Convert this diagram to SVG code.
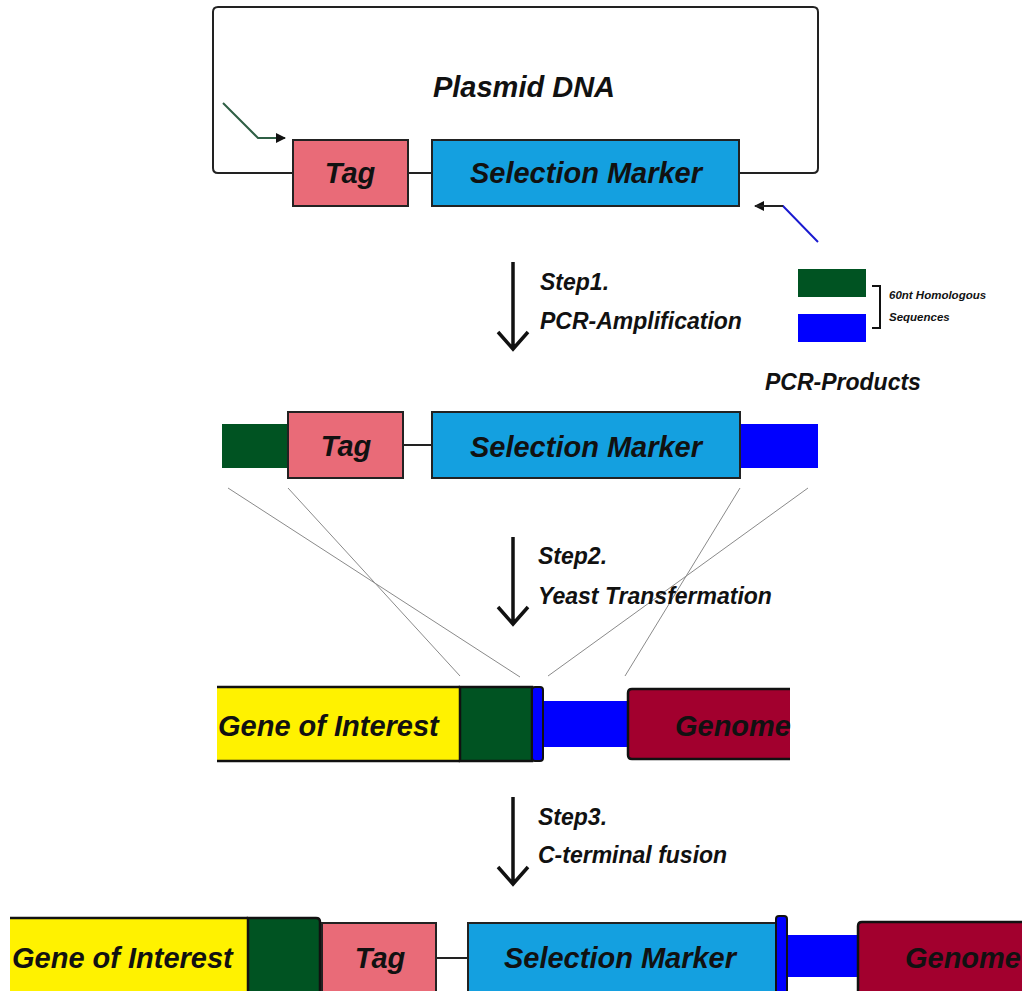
<svg xmlns="http://www.w3.org/2000/svg" width="1022" height="991" viewBox="0 0 1022 991">
  <style>
    .lbl { font-family: "Liberation Sans", Arial, sans-serif; font-weight: bold; font-style: italic; fill: #111; }
    .big { font-size: 29px; }
    .step { font-size: 23px; }
    .small { font-size: 11.5px; }
    .tag { fill: #e96b78; stroke: #222; stroke-width: 2; }
    .marker { fill: #14a0e0; stroke: #222; stroke-width: 2; }
    .homL { fill: #005322; }
    .homR { fill: #0000ff; }
    .goi { fill: #fff200; }
    .genome { fill: #a2002e; }
    .edge { fill: none; stroke: #111; stroke-width: 2.5; }
    .wire { fill: none; stroke: #222; stroke-width: 2; }
    .guide { fill: none; stroke: #8a8a8a; stroke-width: 1; }
    .step-arrow { fill: none; stroke: #111; stroke-width: 3.5; }
  </style>
  <defs>
    <marker id="tri" viewBox="0 0 10 10" refX="9" refY="5" markerWidth="10" markerHeight="10" markerUnits="userSpaceOnUse" orient="auto">
      <path d="M0,0 L10,5 L0,10 z" fill="#111"/>
    </marker>
  </defs>
  <rect width="1022" height="991" fill="#fff"/>

  <g id="connectors">
    <!-- plasmid backbone -->
    <path class="wire" d="M293,173 H218 Q213,173 213,168 V12 Q213,7 218,7 H813 Q818,7 818,12 V168 Q818,173 813,173 H739"/>
    <line class="wire" x1="408" y1="173" x2="432" y2="173"/>
    <!-- primers -->
    <path d="M223,103 L258,138 H285" fill="none" stroke="#2f5f45" stroke-width="2" marker-end="url(#tri)"/>
    <path d="M818,242 L783,206 H755" fill="none" stroke="#1a1ad0" stroke-width="2" marker-end="url(#tri)"/>
    <path d="M783,206 H755" fill="none" stroke="#222" stroke-width="2"/>
    <!-- step arrows -->
    <path class="step-arrow" d="M513,262 V349 M498,332 L513,349 L528,332"/>
    <path class="step-arrow" d="M513,537 V624 M498,607 L513,624 L528,607"/>
    <path class="step-arrow" d="M513,797 V884 M498,867 L513,884 L528,867"/>
    <!-- homologous recombination guides -->
    <line class="guide" x1="228" y1="488" x2="520" y2="677"/>
    <line class="guide" x1="288" y1="488" x2="460" y2="676"/>
    <line class="guide" x1="740" y1="488" x2="625" y2="676"/>
    <line class="guide" x1="808" y1="488" x2="548" y2="676"/>
    <!-- linkers -->
    <line class="wire" x1="403" y1="445" x2="432" y2="445"/>
    <line class="wire" x1="436" y1="958" x2="468" y2="958"/>
  </g>

  <g id="plasmid">
    <text class="lbl big" x="524" y="97" text-anchor="middle">Plasmid DNA</text>
  </g>
  <g id="plasmid-tag">
    <rect class="tag" x="293" y="140" width="115" height="66"/>
    <text class="lbl big" x="350" y="183" text-anchor="middle">Tag</text>
  </g>
  <g id="plasmid-marker">
    <rect class="marker" x="432" y="140" width="307" height="66"/>
    <text class="lbl big" x="586" y="183" text-anchor="middle">Selection Marker</text>
  </g>

  <g id="step1">
    <text class="lbl step" x="540" y="290">Step1.</text>
    <text class="lbl step" x="540" y="329">PCR-Amplification</text>
  </g>

  <g id="legend">
    <rect class="homL" x="798" y="269" width="68" height="28"/>
    <rect class="homR" x="798" y="314" width="68" height="28"/>
    <path d="M872,286 H880 V328 H872" fill="none" stroke="#111" stroke-width="2"/>
    <text class="lbl small" x="889" y="299">60nt Homologous</text>
    <text class="lbl small" x="889" y="321">Sequences</text>
  </g>

  <g id="pcr-products">
    <text class="lbl step" x="765" y="390">PCR-Products</text>
    <rect class="homL" x="222" y="424" width="66" height="44"/>
    <rect class="homR" x="740" y="424" width="78" height="44"/>
    <rect class="tag" x="288" y="412" width="115" height="66"/>
    <text class="lbl big" x="346" y="456" text-anchor="middle">Tag</text>
    <rect class="marker" x="432" y="412" width="308" height="66"/>
    <text class="lbl big" x="586" y="457" text-anchor="middle">Selection Marker</text>
  </g>

  <g id="step2">
    <text class="lbl step" x="538" y="564">Step2.</text>
    <text class="lbl step" x="538" y="604">Yeast Transfermation</text>
  </g>

  <g id="genome-locus">
    <rect class="goi" x="217" y="687" width="243" height="74"/>
    <path class="edge" d="M217,687 H460 M217,761 H460"/>
    <rect class="homL" x="460" y="687" width="72" height="74" stroke="#111" stroke-width="2.5"/>
    <rect x="532" y="687" width="11" height="74" rx="3" fill="#0000ff" stroke="#111" stroke-width="2"/>
    <rect class="homR" x="544" y="701" width="84" height="46"/>
    <rect class="genome" x="628" y="689" width="162" height="70"/>
    <path class="edge" d="M790,689 H632 Q628,689 628,693 V755 Q628,759 632,759 H790"/>
    <text class="lbl big" x="218" y="736">Gene of Interest</text>
    <text class="lbl big" x="791" y="736" text-anchor="end">Genome</text>
  </g>

  <g id="step3">
    <text class="lbl step" x="538" y="825">Step3.</text>
    <text class="lbl step" x="538" y="863">C-terminal fusion</text>
  </g>

  <g id="fusion-locus">
    <rect class="goi" x="10" y="918" width="238" height="80"/>
    <path class="edge" d="M10,918 H248"/>
    <path class="homL" d="M248,918 H316 Q320,918 320,922 V995 H248 z" stroke="#111" stroke-width="2.5"/>
    <rect class="tag" x="322" y="923" width="114" height="75"/>
    <text class="lbl big" x="380" y="968" text-anchor="middle">Tag</text>
    <rect class="marker" x="468" y="923" width="308" height="75"/>
    <text class="lbl big" x="620" y="968" text-anchor="middle">Selection Marker</text>
    <rect x="776" y="916" width="11" height="82" rx="3" fill="#0000ff" stroke="#111" stroke-width="2"/>
    <rect class="homR" x="788" y="935" width="70" height="42"/>
    <rect class="genome" x="858" y="922" width="170" height="76"/>
    <path class="edge" d="M1025,922 H862 Q858,922 858,926 V998"/>
    <text class="lbl big" x="12" y="968">Gene of Interest</text>
    <text class="lbl big" x="1021" y="968" text-anchor="end">Genome</text>
  </g>
</svg>
